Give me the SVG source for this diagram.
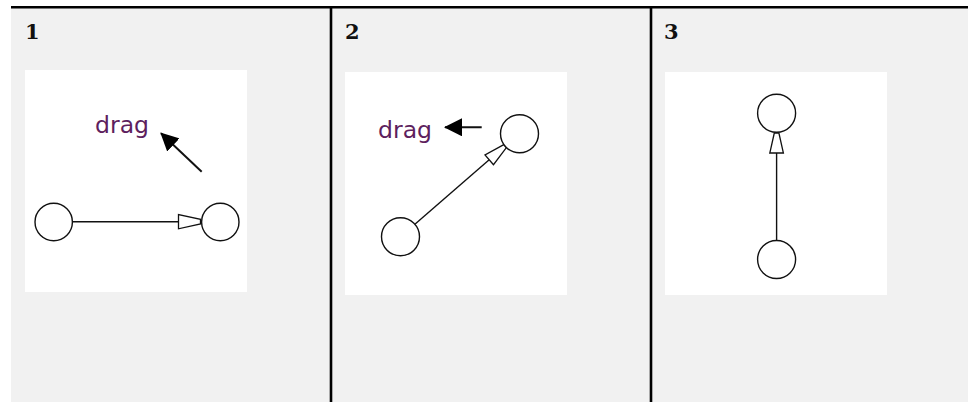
<svg xmlns="http://www.w3.org/2000/svg" width="969" height="402" viewBox="0 0 969 402">
  <defs>
    <style>
      .panel { fill: #f1f1f1; }
      .canvas { fill: #ffffff; }
      .rule { stroke: #000000; stroke-width: 2.6; }
      .num { font-family: "DejaVu Serif", "Liberation Serif", serif; font-weight: bold; font-size: 21px; fill: #111111; }
      .drag { font-family: "DejaVu Sans", "Liberation Sans", sans-serif; font-size: 23px; fill: #5e1f5e; }
      .node { fill: #ffffff; stroke: #111111; stroke-width: 1.4; }
      .edge { stroke: #111111; stroke-width: 1.4; fill: none; }
      .head { fill: #ffffff; stroke: #111111; stroke-width: 1.3; stroke-linejoin: miter; }
      .dragline { stroke: #111111; stroke-width: 2; fill: none; }
    </style>
    <marker id="dragArrow" viewBox="0 0 18 18" refX="17" refY="9" markerWidth="18" markerHeight="18" markerUnits="userSpaceOnUse" orient="auto">
      <path d="M0,0 L18,9 L0,18 Z" fill="#000000"/>
    </marker>
  </defs>

  <!-- background panels -->
  <rect class="panel" x="11" y="7" width="957" height="395"/>
  <rect class="canvas" x="25" y="70" width="222" height="222"/>
  <rect class="canvas" x="345" y="72" width="222" height="223"/>
  <rect class="canvas" x="665" y="72" width="222" height="223"/>

  <!-- table rules -->
  <line class="rule" x1="11" y1="7.3" x2="968" y2="7.3"/>
  <line class="rule" x1="331" y1="7" x2="331" y2="402"/>
  <line class="rule" x1="651" y1="7" x2="651" y2="402"/>

  <!-- panel numbers -->
  <text class="num" x="25" y="39">1</text>
  <text class="num" x="345" y="39">2</text>
  <text class="num" x="664" y="39">3</text>

  <!-- drag labels -->
  <g id="drag1">
    <text class="drag" x="95" y="132.5" textLength="54" lengthAdjust="spacingAndGlyphs">drag</text>
    <line class="dragline" x1="201.7" y1="171.7" x2="161" y2="133.3" marker-end="url(#dragArrow)"/>
  </g>
  <g id="drag2">
    <text class="drag" x="378" y="138" textLength="54" lengthAdjust="spacingAndGlyphs">drag</text>
    <line class="dragline" x1="481.7" y1="127.3" x2="445" y2="127.3" marker-end="url(#dragArrow)"/>
  </g>

  <!-- connectors -->
  <g id="connectors">
    <line class="edge" x1="72.5" y1="221.7" x2="178.5" y2="221.7"/>
    <polygon class="head" points="178.5,214.5 178.5,228.8 200.5,224 200.5,219.3"/>

    <line class="edge" x1="414.9" y1="224.3" x2="489.2" y2="159.8"/>
    <polygon class="head" points="493.5,164.7 485,154.9 503.8,144.6 506.4,147.6"/>

    <line class="edge" x1="776.6" y1="240.5" x2="776.6" y2="153"/>
    <polygon class="head" points="769.8,153 783.4,153 778.9,133 774.3,133"/>
  </g>

  <!-- nodes -->
  <g id="p1-a"><circle class="node" cx="53.7" cy="222" r="18.7"/></g>
  <g id="p1-b"><circle class="node" cx="220.3" cy="222" r="18.7"/></g>
  <g id="p2-a"><circle class="node" cx="400.5" cy="236.7" r="19"/></g>
  <g id="p2-b"><circle class="node" cx="519.5" cy="133.7" r="19"/></g>
  <g id="p3-a"><circle class="node" cx="776.6" cy="113.3" r="19"/></g>
  <g id="p3-b"><circle class="node" cx="776.6" cy="259.5" r="19"/></g>
</svg>
